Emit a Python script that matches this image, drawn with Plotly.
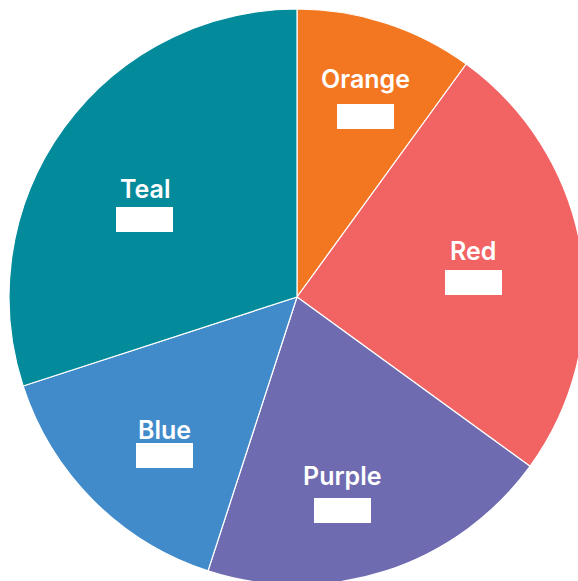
import math
import plotly.graph_objects as go

# Slice data, clockwise from 12 o'clock
labels = ["Orange", "Red", "Purple", "Blue", "Teal"]
values = [10, 25, 20, 15, 30]
colors = ["#F37721", "#F26464", "#6E6BB1", "#428BCA", "#038B9B"]

# Label placement styling per slice: radius (fraction of pie radius),
# angular nudge from the slice mid-angle (degrees), and the drop in px
# from the name to its value box
label_radius = [0.797, 0.633, 0.637, 0.649, 0.649]
label_nudge = [-0.6, -6.0, 3.6, 0.0, -0.5]
box_drop = [39, 32.5, 35.6, 26.5, 31]

fig = go.Figure(
    go.Pie(
        labels=labels,
        values=values,
        marker=dict(colors=colors, line=dict(color="white", width=1.2)),
        sort=False,
        direction="clockwise",
        rotation=0,
        textinfo="none",
        hoverinfo="label+value",
        showlegend=False,
    )
)

total = sum(values)
cum = 0
annotations = []
for lab, val, rf, nudge, drop in zip(labels, values, label_radius, label_nudge, box_drop):
    mid = (cum + val / 2) / total * 2 * math.pi + math.radians(nudge)
    cum += val
    x = 0.5 + 0.5 * rf * math.sin(mid)
    y = 0.5 + 0.5 * rf * math.cos(mid)
    annotations.append(dict(
        x=x, y=y, xref="paper", yref="paper", text=lab, showarrow=False,
        xanchor="center", yanchor="middle", yshift=-1,
        font=dict(family="Inter", size=25, color="white", weight=600),
    ))
    # value box (white badge)
    annotations.append(dict(
        x=x, y=y, xref="paper", yref="paper", text=f"{val}%", showarrow=False,
        xanchor="center", yanchor="middle", yshift=-drop,
        width=57, height=25, bgcolor="white", borderpad=0, borderwidth=0,
        font=dict(family="Inter", size=14, color="white"),
    ))

fig.update_layout(
    width=585, height=585,
    margin=dict(l=9, t=9, r=0, b=0),
    paper_bgcolor="white",
    annotations=annotations,
)

fig.write_html(
    "out.html",
    post_script=(
        "document.body.style.margin='0';"
        "document.body.style.overflow='hidden';"
        "document.documentElement.style.overflow='hidden';"
    ),
)
